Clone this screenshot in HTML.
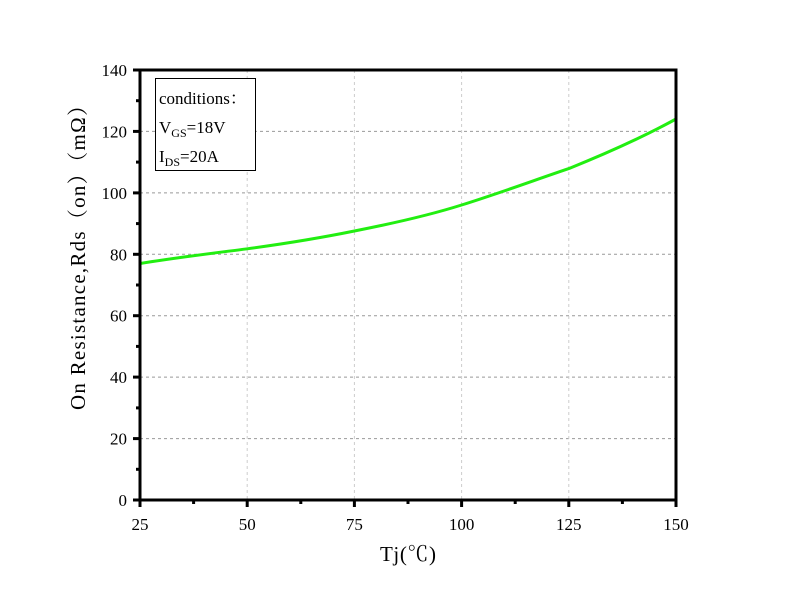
<!DOCTYPE html><html><head><meta charset="utf-8"><style>body{margin:0;background:#fff}svg{display:block}text{font-family:"Liberation Serif",serif;fill:#000}</style></head><body>
<svg width="786" height="602" viewBox="0 0 786 602">
<g stroke="#999" stroke-width="1" stroke-dasharray="3,3">
<line x1="140" y1="438.6" x2="676" y2="438.6"/><line x1="140" y1="377.1" x2="676" y2="377.1"/><line x1="140" y1="315.7" x2="676" y2="315.7"/><line x1="140" y1="254.3" x2="676" y2="254.3"/><line x1="140" y1="192.9" x2="676" y2="192.9"/><line x1="140" y1="131.4" x2="676" y2="131.4"/>
</g>
<g stroke="#ccc" stroke-width="1" stroke-dasharray="3,3">
<line x1="247.2" y1="70" x2="247.2" y2="500"/><line x1="354.4" y1="70" x2="354.4" y2="500"/><line x1="461.6" y1="70" x2="461.6" y2="500"/><line x1="568.8" y1="70" x2="568.8" y2="500"/>
</g>
<path d="M140,263.5 C180,257 215,253 247.2,248.8 C290,243 320,238 354.4,231 C395,223 430,215 461.6,205 C500,193 535,180 568.8,168.6 C610,152 645,136 676,119" fill="none" stroke="#22ee11" stroke-width="3"/>
<rect x="140" y="70" width="536" height="430" fill="none" stroke="#000" stroke-width="3"/>
<g stroke="#000" stroke-width="3">
<line x1="133" y1="500" x2="140" y2="500"/><line x1="133" y1="438.6" x2="140" y2="438.6"/><line x1="133" y1="377.1" x2="140" y2="377.1"/><line x1="133" y1="315.7" x2="140" y2="315.7"/><line x1="133" y1="254.3" x2="140" y2="254.3"/><line x1="133" y1="192.9" x2="140" y2="192.9"/><line x1="133" y1="131.4" x2="140" y2="131.4"/><line x1="133" y1="70" x2="140" y2="70"/>
<line x1="136" y1="469.3" x2="140" y2="469.3"/><line x1="136" y1="407.9" x2="140" y2="407.9"/><line x1="136" y1="346.4" x2="140" y2="346.4"/><line x1="136" y1="285" x2="140" y2="285"/><line x1="136" y1="223.6" x2="140" y2="223.6"/><line x1="136" y1="162.1" x2="140" y2="162.1"/><line x1="136" y1="100.7" x2="140" y2="100.7"/>
<line x1="140" y1="500" x2="140" y2="507"/><line x1="247.2" y1="500" x2="247.2" y2="507"/><line x1="354.4" y1="500" x2="354.4" y2="507"/><line x1="461.6" y1="500" x2="461.6" y2="507"/><line x1="568.8" y1="500" x2="568.8" y2="507"/><line x1="676" y1="500" x2="676" y2="507"/>
<line x1="193.6" y1="500" x2="193.6" y2="504"/><line x1="300.8" y1="500" x2="300.8" y2="504"/><line x1="408" y1="500" x2="408" y2="504"/><line x1="515.2" y1="500" x2="515.2" y2="504"/><line x1="622.4" y1="500" x2="622.4" y2="504"/>
</g>
<g font-size="17" text-anchor="end">
<text x="127" y="506">0</text><text x="127" y="444.6">20</text><text x="127" y="383.1">40</text><text x="127" y="321.7">60</text><text x="127" y="260.3">80</text><text x="127" y="198.9">100</text><text x="127" y="137.4">120</text><text x="127" y="76">140</text>
</g>
<g font-size="17" text-anchor="middle">
<text x="140" y="530">25</text><text x="247.2" y="530">50</text><text x="354.4" y="530">75</text><text x="461.6" y="530">100</text><text x="568.8" y="530">125</text><text x="676" y="530">150</text>
</g>
<text x="408" y="561" font-size="21" text-anchor="middle" textLength="56" style="font-family:'Liberation Serif','Noto Serif CJK SC',serif">Tj(℃)</text>
<text transform="translate(85,410) rotate(-90)" font-size="21" textLength="315" lengthAdjust="spacing" style="font-family:'Liberation Serif','Noto Serif CJK SC',serif">On Resistance,Rds（on）（mΩ）</text>
<rect x="155.5" y="78.5" width="100" height="92" fill="#fff" stroke="#000" stroke-width="1"/>
<text x="159" y="104" font-size="17" style="font-family:'Liberation Serif','Noto Serif CJK SC',serif">conditions：</text>
<text x="159" y="133" font-size="17">V<tspan font-size="12" dy="4">GS</tspan><tspan dy="-4">=18V</tspan></text>
<text x="159" y="162" font-size="17">I<tspan font-size="12" dy="4">DS</tspan><tspan dy="-4">=20A</tspan></text>
</svg></body></html>
